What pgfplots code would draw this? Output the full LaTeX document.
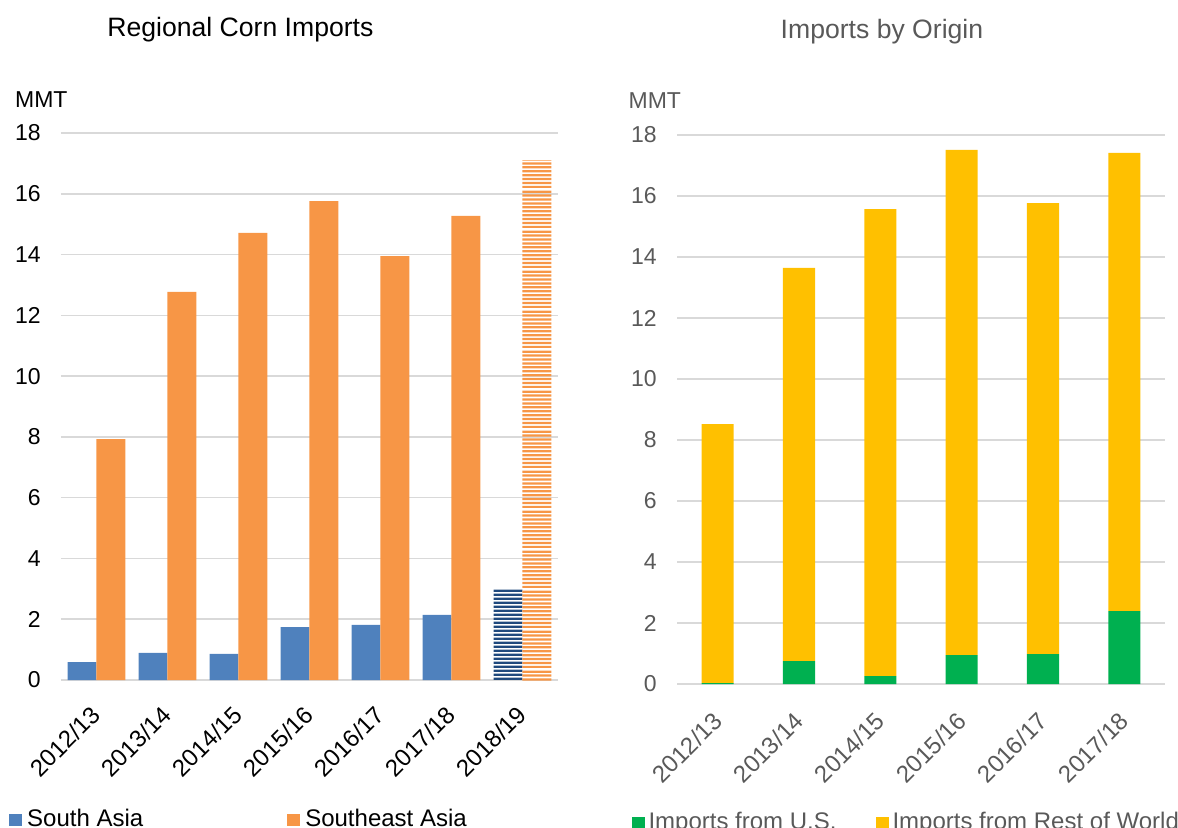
\documentclass[border=0pt]{standalone}
\usepackage{pgfplots}
\pgfplotsset{compat=1.18}
\usepackage{fontspec}
\setmainfont{Liberation Sans}
\usetikzlibrary{patterns.meta}

\definecolor{southasia}{HTML}{4F81BD}
\definecolor{seasia}{HTML}{F79646}
\definecolor{navy}{HTML}{1F497D}
\definecolor{usgreen}{HTML}{00B050}
\definecolor{rowyellow}{HTML}{FFC000}
\definecolor{gridgray}{HTML}{D9D9D9}
\definecolor{txtgray}{HTML}{595959}

% horizontal stripes for the forecast year (big tile, so no seams)
\tikzdeclarepattern{
  name=hstripes,
  type=uncolored,
  bounding box={(0pt,0pt) and (40pt,20pt)},
  tile size={(40pt,20pt)},
  code={
    \foreach \i in {0,...,9}{
      \pgfpathrectangle{\pgfpoint{0pt}{\i*2pt}}{\pgfpoint{40pt}{1.15pt}}
    }
    \pgfusepath{fill}
  }
}

\pgfplotsset{
  sq legend/.style={
    legend image code/.code={\fill[##1, draw=none] (0pt,0pt) rectangle (6.5pt,6pt);}},
  corn/.style={
    scale only axis,
    clip=false,
    axis line style={draw=none},
    major tick length=0pt,
    ymin=0, ymax=18, ytick={0,2,...,18},
    ymajorgrids, grid style={draw=gridgray, line width=0.8pt},
    /pgf/number format/assume math mode=true,
    yticklabel style={font=\fontsize{11.5}{13}\selectfont,
      anchor=east, inner sep=0pt, xshift=-10pt},
    xticklabel style={font=\fontsize{12}{14}\selectfont,
      rotate=45, anchor=north east, inner sep=0pt},
    legend columns=2,
    legend style={draw=none, fill=none, inner sep=0pt, row sep=0pt,
      font=\fontsize{12}{14}\selectfont,
      nodes={inner sep=0pt, anchor=base west}},
  }
}

\begin{document}
\begin{tikzpicture}
\useasboundingbox (0,0) rectangle (589pt,-414pt);

% ---- left: regional imports
\begin{axis}[corn,
  at={(30.5pt,-340pt)}, anchor=south west,
  width=248.5pt, height=273.5pt,
  xmin=-0.5, xmax=6.5,
  xtick={0,...,6},
  xticklabels={2012/13,2013/14,2014/15,2015/16,2016/17,2017/18,2018/19},
  xticklabel style={xshift=-11pt, yshift=-6pt},
  legend style={at={(-0.105,-0.2346)}, anchor=north west,
    /tikz/every odd column/.append style={column sep=2.5pt},
    /tikz/every even column/.append style={column sep=72pt}},
]
\addplot[ybar, bar width=0.408, bar shift=-0.204, fill=southasia, draw=none, sq legend]
  coordinates {(0,0.59) (1,0.89) (2,0.86) (3,1.74) (4,1.81) (5,2.14)};
\addplot[ybar, bar width=0.408, bar shift=0.204, fill=seasia, draw=none, sq legend]
  coordinates {(0,7.93) (1,12.77) (2,14.71) (3,15.76) (4,13.95) (5,15.27)};
\addplot[ybar, bar width=0.408, bar shift=-0.204, draw=none,
  pattern=hstripes, pattern color=navy, forget plot]
  coordinates {(6,3.0)};
\addplot[ybar, bar width=0.408, bar shift=0.204, draw=none,
  pattern=hstripes, pattern color=seasia, forget plot]
  coordinates {(6,17.11)};
\legend{South Asia, Southeast Asia}
\node[anchor=base west, inner sep=0pt, font=\fontsize{11.5}{13}\selectfont]
  at (rel axis cs:-0.093,1.046) {MMT};
\node[anchor=base, inner sep=0pt, font=\fontsize{13.3}{15}\selectfont]
  at (rel axis cs:0.361,1.177) {Regional Corn Imports};
\end{axis}

% ---- right: imports by origin
\begin{axis}[corn,
  at={(338.5pt,-342pt)}, anchor=south west,
  width=244pt, height=274.5pt,
  ybar stacked, bar width=0.394,
  xmin=-0.5, xmax=5.5,
  xtick={0,...,5},
  xticklabels={2012/13,2013/14,2014/15,2015/16,2016/17,2017/18},
  tick label style={text=txtgray},
  xticklabel style={xshift=-11.5pt, yshift=-7pt},
  legend style={at={(-0.094,-0.232)}, anchor=north west, text=txtgray,
    /tikz/every odd column/.append style={column sep=2pt},
    /tikz/every even column/.append style={column sep=19.5pt}},
]
\addplot[fill=usgreen, draw=none, sq legend]
  coordinates {(0,0.03) (1,0.75) (2,0.26) (3,0.95) (4,0.98) (5,2.39)};
\addplot[fill=rowyellow, draw=none, sq legend]
  coordinates {(0,8.49) (1,12.89) (2,15.31) (3,16.56) (4,14.79) (5,15.02)};
\legend{Imports from U.S., Imports from Rest of World}
\node[anchor=base west, inner sep=0pt, text=txtgray, font=\fontsize{11.5}{13}\selectfont]
  at (rel axis cs:-0.100,1.049) {MMT};
\node[anchor=base, inner sep=0pt, text=txtgray, font=\fontsize{13.3}{15}\selectfont]
  at (rel axis cs:0.420,1.175) {Imports by Origin};
\end{axis}
\end{tikzpicture}
\end{document}
